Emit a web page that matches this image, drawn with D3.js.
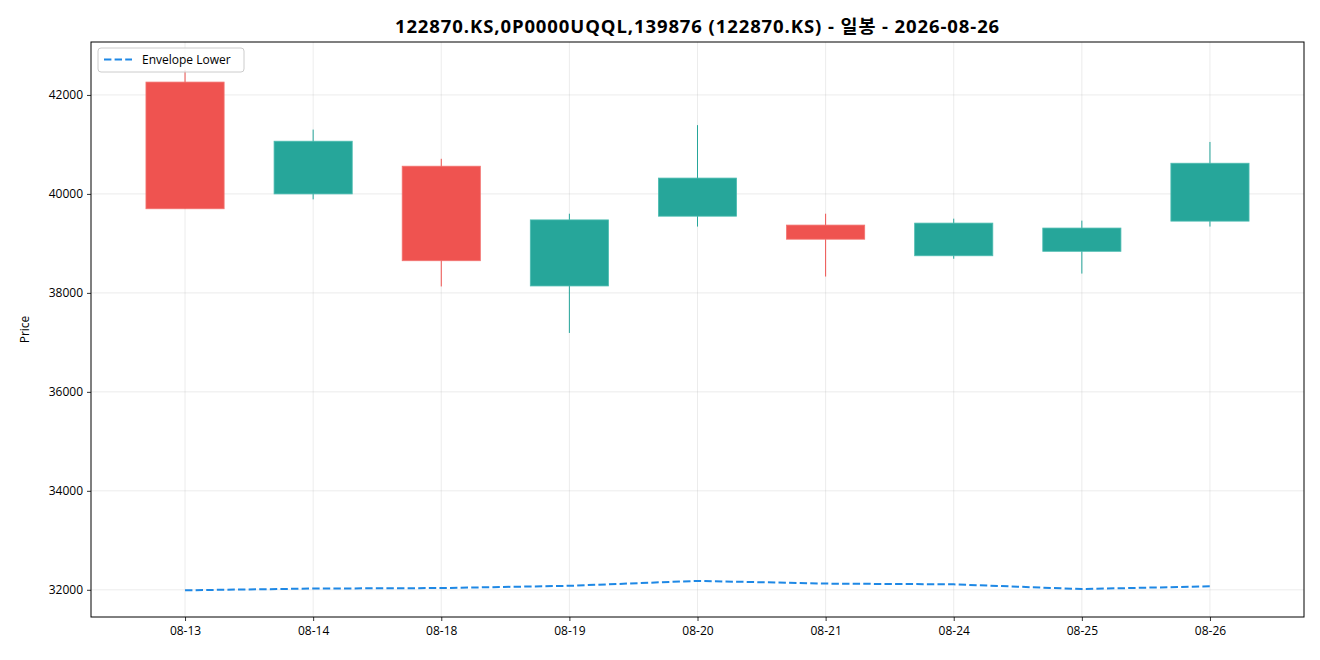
<!DOCTYPE html>
<html><head><meta charset="utf-8">
<script src="https://cdn.jsdelivr.net/npm/d3@7"></script>
<style>body{margin:0;background:#fff;} svg{display:block;}</style>
</head><body>
<svg id="c" width="1320" height="660"></svg>
<script>
const dates = ["08-13","08-14","08-18","08-19","08-20","08-21","08-24","08-25","08-26"];
const opens  = [42260, 40000, 40560, 38140, 39550, 39370, 38750, 38840, 39450];
const highs  = [42500, 41300, 40710, 39600, 41390, 39600, 39500, 39460, 41050];
const lows   = [39700, 39890, 38130, 37190, 39340, 38330, 38690, 38390, 39340];
const closes = [39700, 41065, 38650, 39475, 40320, 39085, 39410, 39310, 40620];
const envLower = [31990, 32025, 32035, 32080, 32180, 32125, 32110, 32015, 32070];
const yTicks = [32000, 34000, 36000, 38000, 40000, 42000];
const titleText = "122870.KS,0P0000UQQL,139876 (122870.KS) - 일봉 - 2026-08-26";
const legendLabel = "Envelope Lower";

const UP = "#26a69a", DOWN = "#ef5350", LINE = "#1e88e5";
const svg = d3.select("#c");
const L = 91, R = 1304, T = 42, B = 617;
const FONT = "'Open Sans','Noto Sans CJK KR',sans-serif";

const x = d3.scaleLinear().domain([-0.734, dates.length - 1 + 0.734]).range([L, R]);
const y = d3.scaleLinear().domain([31450, 43070]).range([B, T]);

// grid
const g = svg.append("g");
g.selectAll(".gx").data(dates).enter().append("line")
  .attr("x1", (d,i)=>x(i)).attr("x2",(d,i)=>x(i)).attr("y1",T).attr("y2",B)
  .attr("stroke","#b0b0b0").attr("stroke-opacity",0.3).attr("stroke-width",0.8);
g.selectAll(".gy").data(yTicks).enter().append("line")
  .attr("x1",L).attr("x2",R).attr("y1",d=>y(d)).attr("y2",d=>y(d))
  .attr("stroke","#b0b0b0").attr("stroke-opacity",0.3).attr("stroke-width",0.8);

// candles
const data = dates.map((d,i)=>({i, o:opens[i], h:highs[i], l:lows[i], c:closes[i]}));
const bw = x(0.61) - x(0);
const cg = svg.append("g");
cg.selectAll(".wick").data(data).enter().append("line")
  .attr("x1",d=>x(d.i)).attr("x2",d=>x(d.i))
  .attr("y1",d=>y(d.h)).attr("y2",d=>y(d.l))
  .attr("stroke",d=>d.c>=d.o?UP:DOWN).attr("stroke-width",1);
cg.selectAll(".body").data(data).enter().append("rect")
  .attr("x",d=>x(d.i)-bw/2).attr("width",bw)
  .attr("y",d=>y(Math.max(d.o,d.c)))
  .attr("height",d=>Math.max(1, y(Math.min(d.o,d.c))-y(Math.max(d.o,d.c))))
  .attr("fill",d=>d.c>=d.o?UP:DOWN)
  .attr("stroke",d=>d.c>=d.o?"#4dbcb1":"#f27370").attr("stroke-width",0.8);

// envelope line
const line = d3.line().x((d,i)=>x(i)).y(d=>y(d)).curve(d3.curveLinear);
svg.append("path").datum(envLower).attr("d",line)
  .attr("fill","none").attr("stroke",LINE).attr("stroke-width",2)
  .attr("stroke-dasharray","7.4,3.2");

// axes
const xAxis = d3.axisBottom(x).tickValues(d3.range(dates.length)).tickFormat(i=>dates[i]).tickSize(4).tickPadding(5);
const yAxis = d3.axisLeft(y).tickValues(yTicks).tickFormat(d3.format("d")).tickSize(4).tickPadding(4);
const xa = svg.append("g").attr("transform",`translate(0,${B})`).call(xAxis);
const ya = svg.append("g").attr("transform",`translate(${L},0)`).call(yAxis);
[xa,ya].forEach(a=>{
  a.select(".domain").remove();
  a.selectAll("text").attr("font-family",FONT).attr("font-size",12).attr("fill","#000");
  a.selectAll("line").attr("stroke","#000").attr("stroke-width",0.8);
});

// frame
svg.append("rect").attr("x",L).attr("y",T).attr("width",R-L).attr("height",B-T)
  .attr("fill","none").attr("stroke","#000").attr("stroke-width",1);

// y label
svg.append("text").attr("transform",`translate(29,${(T+B)/2}) rotate(-90)`)
  .attr("text-anchor","middle").attr("font-family",FONT).attr("font-size",12).text("Price");

// title
svg.append("text").attr("x",(L+R)/2).attr("y",33).attr("text-anchor","middle")
  .attr("font-family",FONT).attr("font-size",18.5).attr("letter-spacing",0.9)
  .attr("font-weight","bold").text(titleText);

// legend
const lg = svg.append("g");
lg.append("rect").attr("x",98).attr("y",48).attr("width",146).attr("height",24).attr("rx",3)
  .attr("fill","#fff").attr("fill-opacity",0.8).attr("stroke","#cccccc").attr("stroke-width",1);
lg.append("line").attr("x1",104).attr("x2",132).attr("y1",59.5).attr("y2",59.5)
  .attr("stroke",LINE).attr("stroke-width",2).attr("stroke-dasharray","7.4,3.2");
lg.append("text").attr("x",142).attr("y",64).attr("font-family",FONT).attr("font-size",12)
  .text(legendLabel);
</script>
</body></html>
